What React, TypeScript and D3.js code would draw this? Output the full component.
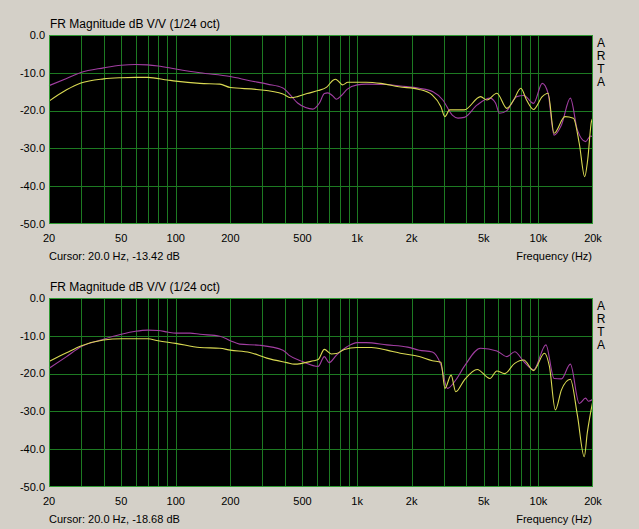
import React from "react";
import * as d3 from "d3";

const xTicks = [20, 50, 100, 200, 500, 1000, 2000, 5000, 10000, 20000];
const xTickLabels = ["20", "50", "100", "200", "500", "1k", "2k", "5k", "10k", "20k"];
const gridFreqs = [30, 40, 50, 60, 70, 80, 90, 100, 200, 300, 400, 500, 600, 700, 800, 900, 1000, 2000, 3000, 4000, 5000, 6000, 7000, 8000, 9000, 10000];
const yTicks = [0, -10, -20, -30, -40, -50];

const topMagFreq = [20, 25, 30, 40, 50, 60, 70, 80, 100, 136, 200, 256, 320, 390, 430, 470, 520, 570, 620, 660, 690, 730, 770, 820, 880, 1000, 1120, 1460, 1730, 2200, 2620, 2970, 3350, 3600, 3900, 4600, 5400, 5800, 6100, 6700, 7600, 8300, 9400, 10500, 11300, 12200, 13400, 15000, 16400, 18200, 19400, 20000];
const topMagDb = [-13.4, -11.5, -9.9, -8.7, -8.0, -7.8, -7.9, -8.2, -9.0, -10.0, -11.0, -12.1, -13.0, -14.0, -16.0, -18.0, -19.2, -19.6, -18.0, -15.5, -15.3, -16.0, -17.0, -16.0, -14.4, -13.2, -13.0, -13.1, -13.5, -14.1, -15.0, -17.2, -21.2, -22.0, -21.8, -18.5, -16.7, -18.0, -20.7, -20.0, -16.3, -16.0, -18.1, -12.8, -15.4, -26.5, -23.8, -16.7, -25.1, -28.2, -26.7, -27.0];

const topYelFreq = [20, 25, 30, 40, 50, 60, 70, 90, 100, 136, 175, 200, 280, 390, 430, 470, 530, 610, 680, 740, 760, 800, 830, 890, 1120, 1350, 1700, 2200, 2600, 2900, 3050, 3240, 3900, 4800, 5200, 5900, 6700, 7300, 8000, 8600, 9400, 10500, 11300, 12200, 14000, 15600, 16800, 18000, 18700, 19600, 20000];
const topYelDb = [-17.5, -14.5, -12.7, -11.6, -11.3, -11.2, -11.2, -11.9, -12.2, -12.8, -13.0, -13.9, -14.4, -15.6, -16.6, -16.3, -15.5, -14.7, -13.8, -11.9, -11.7, -12.5, -13.2, -12.5, -12.5, -12.8, -13.7, -14.4, -15.9, -19.0, -21.6, -19.8, -19.8, -16.3, -17.2, -15.4, -19.4, -17.2, -14.1, -17.2, -19.7, -16.3, -15.4, -26.0, -21.6, -22.0, -28.7, -37.5, -33.0, -22.9, -22.0];

const botMagFreq = [20, 25, 30, 40, 50, 60, 70, 80, 90, 100, 120, 136, 175, 200, 225, 290, 390, 420, 500, 610, 660, 700, 770, 880, 1000, 1120, 1460, 1900, 2200, 2600, 2900, 3150, 3500, 3900, 4800, 5900, 6700, 7400, 8300, 9400, 11000, 12200, 13400, 15000, 16800, 18200, 18900, 20000];
const botMagDb = [-18.6, -15.5, -12.9, -10.9, -9.6, -8.8, -8.5, -8.6, -9.0, -9.3, -9.3, -9.6, -10.1, -11.3, -12.2, -12.5, -13.8, -15.1, -16.8, -18.1, -15.5, -17.1, -15.1, -12.9, -11.8, -11.8, -12.4, -13.0, -13.8, -14.3, -17.7, -23.9, -21.7, -18.1, -13.3, -14.0, -15.5, -14.2, -16.8, -19.0, -12.4, -21.3, -21.4, -17.5, -27.9, -26.5, -27.3, -26.8];

const botYelFreq = [20, 25, 30, 40, 50, 60, 70, 80, 100, 136, 175, 200, 256, 318, 410, 450, 575, 610, 660, 720, 770, 850, 1000, 1200, 1460, 1730, 2200, 2600, 2900, 3050, 3300, 3500, 3900, 4600, 5400, 5900, 6500, 7400, 8300, 9400, 10800, 11500, 12400, 13400, 15000, 16400, 17900, 18600, 20000];
const botYelDb = [-16.8, -14.5, -12.7, -11.1, -10.8, -10.8, -10.8, -11.3, -12.0, -13.1, -13.3, -13.8, -14.4, -15.9, -17.1, -17.5, -16.6, -16.3, -13.6, -14.8, -14.7, -13.6, -13.1, -13.1, -13.8, -14.6, -15.5, -16.6, -17.0, -23.9, -20.4, -24.8, -21.7, -18.9, -21.3, -19.3, -20.0, -17.3, -16.4, -19.2, -14.6, -18.1, -29.6, -24.3, -21.5, -31.0, -42.0, -35.7, -27.0];

const titles = ["FR Magnitude dB V/V (1/24 oct)", "FR Magnitude dB V/V (1/24 oct)"];
const cursorTexts = ["Cursor: 20.0 Hz, -13.42 dB", "Cursor: 20.0 Hz, -18.68 dB"];
const sideLetters = ["A", "R", "T", "A"];

const W = 639;
const H = 529;
const FONT = "Arial, 'Liberation Sans', sans-serif";

function zip(f: number[], v: number[]) {
  return f.map((x, i) => [x, v[i]] as [number, number]);
}

function Panel({ top, mag, yel, title, cursor }: { top: number; mag: [number, number][]; yel: [number, number][]; title: string; cursor: string }) {
  const left = 49;
  const right = 593;
  const bottom = top + 189;
  const x = d3.scaleLog().domain([20, 20000]).range([left, right]);
  const y = d3.scaleLinear().domain([0, -50]).range([top, bottom]);
  const line = d3
    .line<[number, number]>()
    .x((d) => x(d[0]))
    .y((d) => y(d[1]))
    .curve(d3.curveMonotoneX);
  const px = (v: number) => Math.round(v) + 0.5;
  return (
    <g>
      <text x={50} y={top - 7} fontSize={12} fontFamily={FONT} fill="#000">
        {title}
      </text>
      <rect x={left} y={top} width={right - left} height={bottom - top} fill="#000" />
      {gridFreqs.map((f) => (
        <line key={"v" + f} x1={px(x(f))} x2={px(x(f))} y1={top} y2={bottom} stroke="#1d7a22" strokeWidth={1} />
      ))}
      {yTicks.slice(1, -1).map((t) => (
        <line key={"h" + t} x1={left} x2={right} y1={px(y(t))} y2={px(y(t))} stroke="#1d7a22" strokeWidth={1} />
      ))}
      <path d={line(mag) || ""} fill="none" stroke="#a13ea1" strokeWidth={1.1} />
      <path d={line(yel) || ""} fill="none" stroke="#d9d952" strokeWidth={1.1} />
      <rect x={left + 0.5} y={top + 0.5} width={right - left - 1} height={bottom - top - 1} fill="none" stroke="#2f9a33" strokeWidth={1} />
      {yTicks.map((t) => (
        <text key={"yt" + t} x={45} y={y(t)} dy="0.35em" fontSize={11} fontFamily={FONT} textAnchor="end" fill="#000">
          {t.toFixed(1)}
        </text>
      ))}
      {xTicks.map((t, i) => (
        <text key={"xt" + t} x={x(t)} y={bottom + 14} dy="0.35em" fontSize={11} fontFamily={FONT} textAnchor="middle" fill="#000">
          {xTickLabels[i]}
        </text>
      ))}
      <text x={49} y={bottom + 32} dy="0.35em" fontSize={11} fontFamily={FONT} fill="#000">
        {cursor}
      </text>
      <text x={592} y={bottom + 32} dy="0.35em" fontSize={11} fontFamily={FONT} textAnchor="end" fill="#000">
        Frequency (Hz)
      </text>
      {sideLetters.map((l, i) => (
        <text key={"s" + i} x={601} y={top + 8 + i * 13} dy="0.35em" fontSize={12} fontFamily={FONT} textAnchor="middle" fill="#000">
          {l}
        </text>
      ))}
    </g>
  );
}

export default function App() {
  return (
    <svg width={W} height={H} style={{ position: "absolute", left: 0, top: 0, display: "block" }}>
      <rect x={0} y={0} width={W} height={H} fill="#d4d0c8" />
      <Panel top={35} mag={zip(topMagFreq, topMagDb)} yel={zip(topYelFreq, topYelDb)} title={titles[0]} cursor={cursorTexts[0]} />
      <Panel top={298} mag={zip(botMagFreq, botMagDb)} yel={zip(botYelFreq, botYelDb)} title={titles[1]} cursor={cursorTexts[1]} />
    </svg>
  );
}
